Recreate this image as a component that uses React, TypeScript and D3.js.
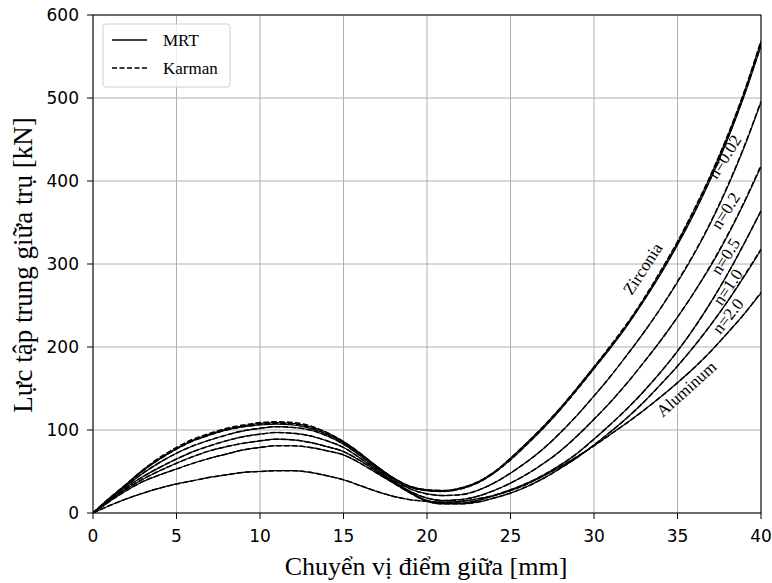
import React from "react";
import * as d3 from "d3";

const xs = d3.range(0, 41, 1);

// MRT (x = 0..40 mm, step 1)
const mrtZirconia = [0, 18, 35, 52, 66, 78, 88, 95, 101, 105, 108, 109, 108, 104, 97, 86, 72, 56, 42, 32, 28, 27, 30, 37, 49, 66, 85, 105, 127, 151, 176, 201, 228, 258, 291, 326, 365, 407, 454, 507, 568];
const mrtN002 = [0, 18, 34, 51, 65, 77, 87, 94, 100, 104, 106, 107, 106, 102, 95, 85, 71, 56, 42, 31, 27, 26, 29, 36, 48, 64, 83, 103, 125, 149, 174, 199, 226, 256, 288, 323, 361, 403, 450, 503, 563];
const mrtN02 = [0, 17, 33, 48, 61, 72, 81, 88, 94, 99, 102, 104, 103, 100, 93, 83, 69, 54, 40, 29, 23, 21, 22, 27, 36, 48, 62, 78, 97, 118, 141, 165, 191, 218, 247, 278, 312, 350, 393, 441, 495];
const mrtN05 = [0, 16, 31, 44, 55, 65, 74, 81, 87, 92, 95, 97, 96, 93, 87, 79, 66, 52, 38, 26, 18, 15, 16, 20, 27, 36, 47, 60, 75, 93, 113, 134, 157, 182, 208, 236, 266, 298, 334, 374, 417];
const mrtN10 = [0, 15, 29, 41, 51, 60, 68, 75, 80, 84, 87, 89, 88, 85, 80, 74, 63, 50, 37, 25, 15, 12, 12, 15, 21, 28, 36, 46, 58, 72, 89, 107, 126, 147, 170, 195, 223, 254, 288, 325, 364];
const mrtN20 = [0, 14, 27, 38, 46, 53, 60, 66, 71, 76, 79, 81, 81, 79, 75, 70, 60, 48, 36, 24, 14, 11, 11, 13, 18, 24, 32, 42, 54, 67, 82, 98, 115, 134, 155, 177, 201, 227, 255, 285, 317];
const mrtAluminum = [0, 9, 17, 24, 30, 35, 39, 43, 46, 49, 50, 51, 51, 49, 45, 40, 33, 26, 20, 16, 14, 13, 14, 17, 21, 27, 35, 45, 56, 68, 81, 95, 109, 124, 140, 157, 175, 195, 217, 240, 265];

// Karman (x = 0..40 mm, step 1)
const karZirconia = [0, 18, 35, 52, 67, 79, 89, 96, 102, 106, 109, 110, 109, 105, 97, 86, 72, 56, 42, 32, 28, 27, 30, 37, 49, 66, 85, 105, 127, 151, 176, 202, 229, 259, 292, 327, 366, 408, 455, 508, 569];
const karN002 = [0, 18, 34, 51, 65, 77, 87, 94, 100, 104, 107, 108, 107, 103, 95, 85, 71, 56, 42, 31, 27, 26, 29, 36, 48, 64, 83, 103, 125, 149, 174, 200, 227, 257, 289, 324, 362, 404, 451, 504, 564];
const karN02 = [0, 17, 33, 48, 61, 72, 81, 88, 94, 99, 102, 104, 103, 100, 93, 83, 69, 54, 40, 29, 23, 21, 22, 27, 36, 48, 62, 78, 97, 118, 141, 165, 191, 218, 247, 279, 313, 351, 394, 442, 496];
const karN05 = [0, 16, 31, 44, 55, 65, 74, 81, 87, 92, 95, 97, 96, 93, 87, 79, 66, 52, 38, 26, 18, 15, 16, 20, 27, 36, 47, 60, 75, 93, 113, 134, 157, 182, 208, 236, 266, 299, 335, 375, 419];
const karN10 = [0, 15, 29, 41, 51, 60, 68, 75, 80, 84, 87, 89, 88, 85, 80, 74, 63, 50, 37, 25, 15, 12, 12, 15, 21, 28, 36, 46, 58, 72, 89, 107, 126, 147, 170, 195, 223, 254, 288, 325, 364];
const karN20 = [0, 14, 27, 38, 46, 53, 60, 66, 71, 76, 79, 81, 81, 79, 75, 70, 60, 48, 36, 24, 14, 11, 11, 13, 18, 24, 32, 42, 54, 67, 82, 98, 115, 134, 155, 177, 201, 227, 255, 286, 318];
const karAluminum = [0, 9, 17, 24, 30, 35, 39, 43, 46, 49, 50, 51, 51, 49, 45, 40, 33, 26, 20, 16, 14, 13, 14, 17, 21, 27, 35, 45, 56, 68, 81, 95, 109, 124, 140, 157, 175, 195, 217, 240, 266];

const mrtSeries = [mrtZirconia, mrtN002, mrtN02, mrtN05, mrtN10, mrtN20, mrtAluminum];
const karSeries = [karZirconia, karN002, karN02, karN05, karN10, karN20, karAluminum];

const xTicks = [0, 5, 10, 15, 20, 25, 30, 35, 40];
const yTicks = [0, 100, 200, 300, 400, 500, 600];

const curveLabels = [
  { text: "Zirconia", x: 33.0, y: 293, angle: -57 },
  { text: "n=0.02", x: 37.9, y: 428, angle: -58 },
  { text: "n=0.2", x: 37.96, y: 363, angle: -58 },
  { text: "n=0.5", x: 37.96, y: 308, angle: -58 },
  { text: "n=1.0", x: 38.1, y: 271, angle: -56 },
  { text: "n=2.0", x: 38.1, y: 236, angle: -52 },
  { text: "Aluminum", x: 35.6, y: 148, angle: -42 },
];

const W = 772;
const H = 583;
const L = 93;
const R = 761;
const T = 15;
const B = 513;

export default function App() {
  const x = d3.scaleLinear().domain([0, 40]).range([L, R]);
  const y = d3.scaleLinear().domain([0, 600]).range([B, T]);
  const line = (vals: number[]) =>
    d3
      .line<number>()
      .x((_, i) => x(xs[i]))
      .y((v) => y(v))
      .curve(d3.curveMonotoneX)(vals) || "";

  const serif = "'Liberation Serif', 'Times New Roman', serif";
  const sans = "'DejaVu Sans', sans-serif";

  return (
    <svg width={W} height={H} style={{ position: "absolute", left: 0, top: 0, background: "#fff" }}>
      <defs>
        <clipPath id="plot">
          <rect x={L} y={T} width={R - L} height={B - T} />
        </clipPath>
      </defs>
      {/* grid */}
      {xTicks.map((t) => (
        <line key={"gx" + t} x1={x(t)} x2={x(t)} y1={T} y2={B} stroke="#b0b0b0" strokeWidth={1} />
      ))}
      {yTicks.map((t) => (
        <line key={"gy" + t} x1={L} x2={R} y1={y(t)} y2={y(t)} stroke="#b0b0b0" strokeWidth={1} />
      ))}
      {/* curves */}
      <g clipPath="url(#plot)" fill="none" stroke="#000">
        {mrtSeries.map((s, i) => (
          <path key={"m" + i} d={line(s)} strokeWidth={1.2} />
        ))}
        {karSeries.map((s, i) => (
          <path key={"k" + i} d={line(s)} strokeWidth={1.5} strokeDasharray="5.5,2.4" />
        ))}
      </g>
      {/* curve labels */}
      {curveLabels.map((c) => (
        <text
          key={c.text}
          transform={`translate(${x(c.x)},${y(c.y)}) rotate(${c.angle})`}
          textAnchor="middle"
          dominantBaseline="middle"
          fontFamily={serif}
          fontSize={17}
          fill="#000"
        >
          {c.text}
        </text>
      ))}
      {/* spines */}
      <rect x={L} y={T} width={R - L} height={B - T} fill="none" stroke="#000" strokeWidth={1} />
      {/* ticks */}
      {xTicks.map((t) => (
        <g key={"tx" + t}>
          <line x1={x(t)} x2={x(t)} y1={B} y2={B + 6} stroke="#000" />
          <text x={x(t)} y={542} textAnchor="middle" fontFamily={sans} fontSize={17} fill="#000">
            {t}
          </text>
        </g>
      ))}
      {yTicks.map((t) => (
        <g key={"ty" + t}>
          <line x1={L - 6} x2={L} y1={y(t)} y2={y(t)} stroke="#000" />
          <text x={L - 14} y={y(t)} textAnchor="end" dominantBaseline="central" fontFamily={sans} fontSize={17} fill="#000">
            {t}
          </text>
        </g>
      ))}
      {/* axis labels */}
      <text x={426} y={575} textAnchor="middle" fontFamily={serif} fontSize={26} fill="#000">
        Chuyển vị điểm giữa [mm]
      </text>
      <text
        transform={`translate(32,265) rotate(-90)`}
        textAnchor="middle"
        fontFamily={serif}
        fontSize={27}
        fill="#000"
      >
        Lực tập trung giữa trụ [kN]
      </text>
      {/* legend */}
      <g>
        <rect x={103} y={24} width={127} height={63} rx={3} fill="#fff" fillOpacity={0.8} stroke="#d0d0d0" />
        <line x1={112} x2={147} y1={40} y2={40} stroke="#000" strokeWidth={1.5} />
        <text x={163} y={40} dominantBaseline="central" fontFamily={serif} fontSize={17} fill="#000">
          MRT
        </text>
        <line x1={112} x2={147} y1={68} y2={68} stroke="#000" strokeWidth={1.5} strokeDasharray="5,2.5" />
        <text x={163} y={68} dominantBaseline="central" fontFamily={serif} fontSize={17} fill="#000">
          Karman
        </text>
      </g>
    </svg>
  );
}
